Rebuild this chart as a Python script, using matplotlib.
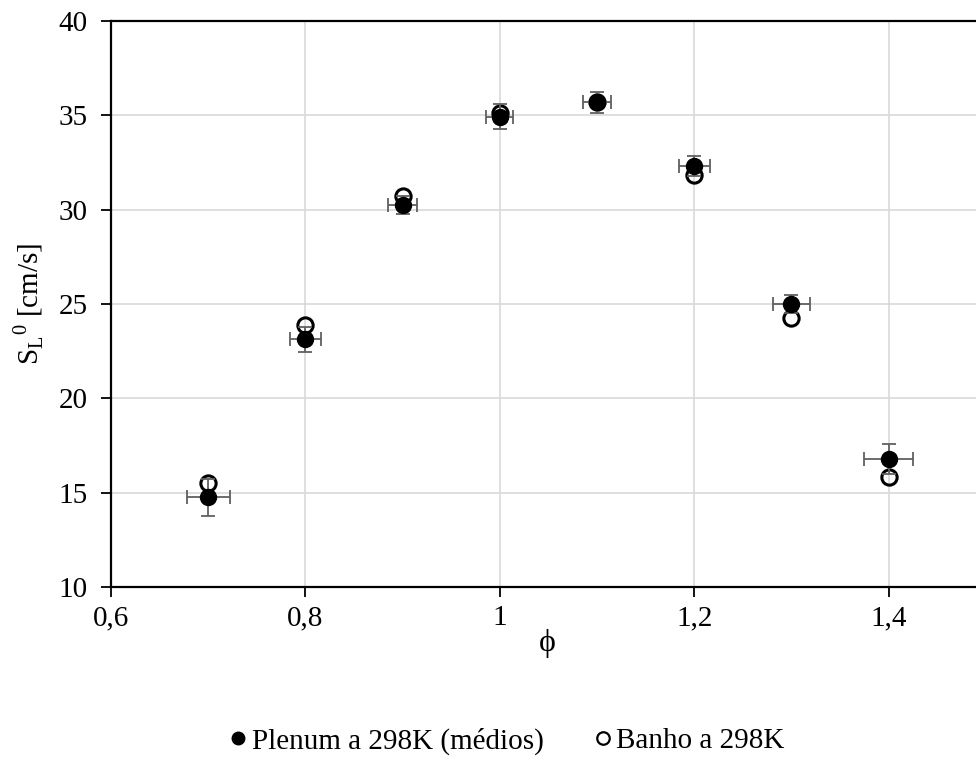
import matplotlib.pyplot as plt
from matplotlib.lines import Line2D
from matplotlib.ticker import FuncFormatter, MultipleLocator, FixedLocator

plt.rcParams['font.family'] = ['Liberation Serif', 'DejaVu Serif']
plt.rcParams['mathtext.fontset'] = 'custom'
plt.rcParams['mathtext.rm'] = 'Liberation Serif'

phi = [0.7, 0.8, 0.9, 1.0, 1.1, 1.2, 1.3, 1.4]
sl_plenum = [14.75, 23.13, 30.25, 34.93, 35.69, 32.31, 25.0, 16.77]
sl_banho = [15.5, 23.89, 30.75, 35.1, 35.72, 31.84, 24.27, 15.85]
xerr_plenum = [0.022, 0.016, 0.015, 0.014, 0.014, 0.016, 0.019, 0.025]
yerr_plenum = [1.0, 0.66, 0.5, 0.65, 0.56, 0.55, 0.5, 0.8]
xticks = [0.6, 0.8, 1.0, 1.2, 1.4, 1.6]

fig = plt.figure(figsize=(9.76, 7.64), dpi=100)
ax = fig.add_axes([111 / 976, 1 - 587 / 764, 972 / 976, 566 / 764])

ax.plot(phi, sl_banho, 'o', ms=11, mfc='none', mec='black', mew=2.2, zorder=3)
ax.errorbar(phi, sl_plenum, xerr=xerr_plenum, yerr=yerr_plenum, fmt='o',
            ms=11.5, mfc='black', mec='black', ecolor='#606060', elinewidth=1.3,
            capsize=5, capthick=1.3, zorder=4)

ax.set_xlim(0.6, 1.6)
ax.set_ylim(10, 40)
ax.xaxis.set_major_locator(FixedLocator(xticks))
ax.yaxis.set_major_locator(MultipleLocator(5))


def comma(v, pos):
    if v > 1.5:
        return ''
    s = ('%.1f' % v).rstrip('0').rstrip('.')
    return s.replace('.', ',')


ax.xaxis.set_major_formatter(FuncFormatter(comma))
ax.yaxis.set_major_formatter(FuncFormatter(lambda v, p: '%d' % v))
ax.grid(True, color='#d9d9d9', lw=1.2)
ax.set_axisbelow(True)
for s in ['left', 'bottom', 'top']:
    ax.spines[s].set_linewidth(1.6)
ax.spines['right'].set_visible(False)
ax.tick_params(direction='out', length=7, width=1.3, labelsize=21)
ax.tick_params(axis='y', pad=10)
ax.tick_params(axis='x', pad=6)

fig.text(547 / 976, 1 - 643 / 764, 'ϕ', fontsize=23, ha='center', va='center')
ax.set_ylabel(r'S$_\mathregular{L}$$^\mathregular{0}$ [cm/s]', fontsize=21, labelpad=9)

handles = [Line2D([], [], ls='none', marker='o', ms=9, mfc='black', mec='black'),
           Line2D([], [], ls='none', marker='o', ms=9, mfc='none', mec='black', mew=1.6)]
labels = ['Plenum a 298K (médios)', 'Banho a 298K']
fig.legend(handles, labels, loc='center', bbox_to_anchor=(508 / 976, 1 - 741 / 764),
           ncol=2, frameon=False, fontsize=21, handlelength=0.5, handletextpad=0.2,
           columnspacing=1.8)

fig.savefig('out.png', dpi=100)
